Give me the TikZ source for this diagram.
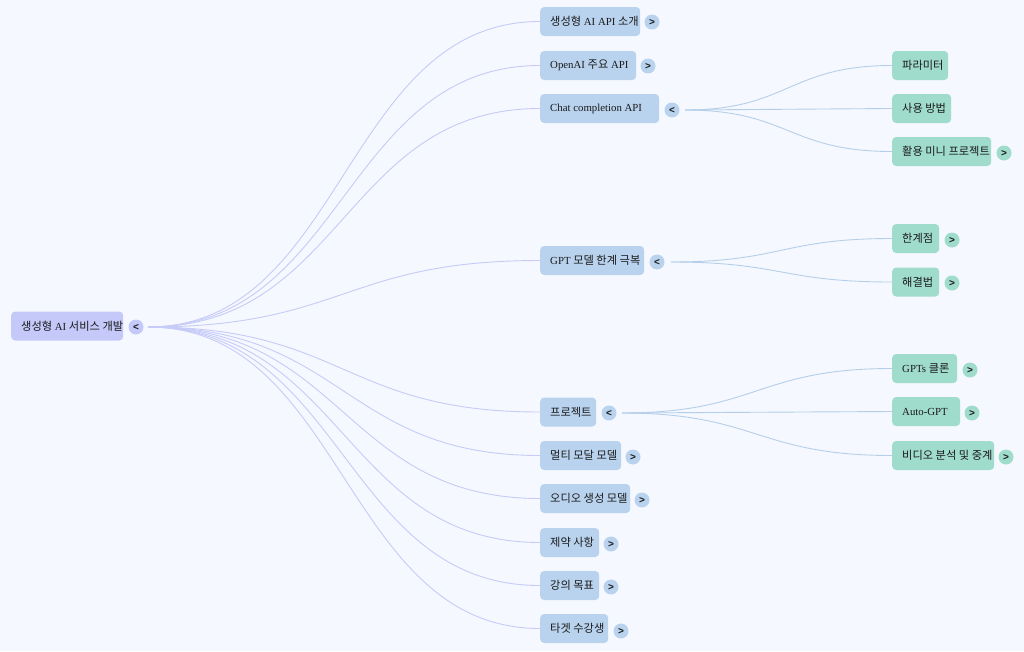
\documentclass[tikz,border=0pt]{standalone}
\usepackage{fontspec}
\setmainfont{Liberation Serif}
\newfontfamily\kr[Scale=1.04]{Noto Sans CJK KR}
\newfontfamily\tgf{Liberation Sans}
\usetikzlibrary{calc}
\newcommand\K[1]{{\kr #1}}
\newcommand\bx[2]{\makebox[#1pt][l]{#2}}
\definecolor{bgc}{HTML}{F5F8FE}
\definecolor{rootfill}{HTML}{C4C9F9}
\definecolor{bluefill}{HTML}{B9D3EE}
\definecolor{greenfill}{HTML}{A0DCCB}
\definecolor{rootedgec}{HTML}{C6CBF8}
\definecolor{blueedgec}{HTML}{B5CFEA}
\definecolor{txt}{HTML}{1A1A1A}
\begin{document}
\begin{tikzpicture}[x=1pt,y=-1pt,
  boxbase/.style={rounded corners=4pt, minimum height=29pt, inner xsep=10pt, inner ysep=0pt,
    anchor=west, text=txt, font=\fontsize{10.8}{13}\selectfont},
  rootbox/.style={boxbase, fill=rootfill},
  lvone/.style={boxbase, fill=bluefill},
  lvtwo/.style={boxbase, fill=greenfill},
  tog/.style={circle, minimum size=15pt, inner sep=0pt, text=txt, font=\tgf\bfseries\fontsize{10}{10}\selectfont},
  rtog/.style={tog, fill=rootfill},
  btog/.style={tog, fill=bluefill},
  gtog/.style={tog, fill=greenfill},
  hlink/.style={to path={let \p1=(\tikztostart), \p2=(\tikztotarget) in
      .. controls ({(\x1+\x2)/2},\y1) and ({(\x1+\x2)/2},\y2) .. (\tikztotarget)}},
  redge/.style={draw=rootedgec, line width=0.9pt, hlink},
  bedge/.style={draw=blueedgec, line width=0.9pt, hlink}
]
\fill[bgc] (0,0) rectangle (1024,651);
\useasboundingbox (0,0) rectangle (1024,651);

% root
\node[rootbox] (root) at (11,326) {\bx{92}{\K{생성형} AI \K{서비스 개발}}};
\node[rtog] (roott) at (136,327) {<};
\coordinate (rootout) at (148,327);

% level one
\node[lvone] (n1) at (540,21.5) {\bx{80}{\K{생성형} AI API \K{소개}}};
\node[btog] (t1) at (652,22) {>};
\node[lvone] (n2) at (540,65.5) {\bx{76}{OpenAI \K{주요} API}};
\node[btog] (t2) at (648,66) {>};
\node[lvone] (n3) at (540,108.5) {\bx{99}{Chat completion API}};
\node[btog] (t3) at (672,110) {<};
\coordinate (n3out) at (685,110);
\node[lvone] (n4) at (540,260.5) {\bx{84}{GPT \K{모델 한계 극복}}};
\node[btog] (t4) at (657,262) {<};
\coordinate (n4out) at (671,262);
\node[lvone] (n5) at (540,412) {\bx{36}{\K{프로젝트}}};
\node[btog] (t5) at (609,413) {<};
\coordinate (n5out) at (622,413);
\node[lvone] (n6) at (540,455.5) {\bx{61}{\K{멀티 모달 모델}}};
\node[btog] (t6) at (633,457) {>};
\node[lvone] (n7) at (540,498.5) {\bx{70}{\K{오디오 생성 모델}}};
\node[btog] (t7) at (642,500) {>};
\node[lvone] (n8) at (540,542.5) {\bx{39}{\K{제약 사항}}};
\node[btog] (t8) at (611,544) {>};
\node[lvone] (n9) at (540,585.5) {\bx{39}{\K{강의 목표}}};
\node[btog] (t9) at (611,587) {>};
\node[lvone] (n10) at (540,628.5) {\bx{48}{\K{타겟 수강생}}};
\node[btog] (t10) at (621,631) {>};

% level two
\node[lvtwo] (m1) at (892,65.5) {\bx{36}{\K{파라미터}}};
\node[lvtwo] (m2) at (892,108.5) {\bx{39}{\K{사용 방법}}};
\node[lvtwo] (m3) at (892,151.5) {\bx{79}{\K{활용 미니 프로젝트}}};
\node[gtog] (s3) at (1004,153) {>};
\node[lvtwo] (m4) at (892,238.5) {\bx{27}{\K{한계점}}};
\node[gtog] (s4) at (952,240) {>};
\node[lvtwo] (m5) at (892,282) {\bx{27}{\K{해결법}}};
\node[gtog] (s5) at (952,283) {>};
\node[lvtwo] (m6) at (892,368.5) {\bx{45}{GPTs \K{클론}}};
\node[gtog] (s6) at (970,370) {>};
\node[lvtwo] (m7) at (892,411.5) {\bx{48}{Auto-GPT}};
\node[gtog] (s7) at (972,413) {>};
\node[lvtwo] (m8) at (892,455.5) {\bx{82}{\K{비디오 분석 및 중계}}};
\node[gtog] (s8) at (1006,457) {>};

% edges
\foreach \ii in {n1,n2,n3,n4,n5,n6,n7,n8,n9,n10}
  \draw[redge] (rootout) to (\ii.west);
\foreach \jj in {m1,m2,m3}
  \draw[bedge] (n3out) to (\jj.west);
\foreach \jj in {m4,m5}
  \draw[bedge] (n4out) to (\jj.west);
\foreach \jj in {m6,m7,m8}
  \draw[bedge] (n5out) to (\jj.west);
\end{tikzpicture}
\end{document}
